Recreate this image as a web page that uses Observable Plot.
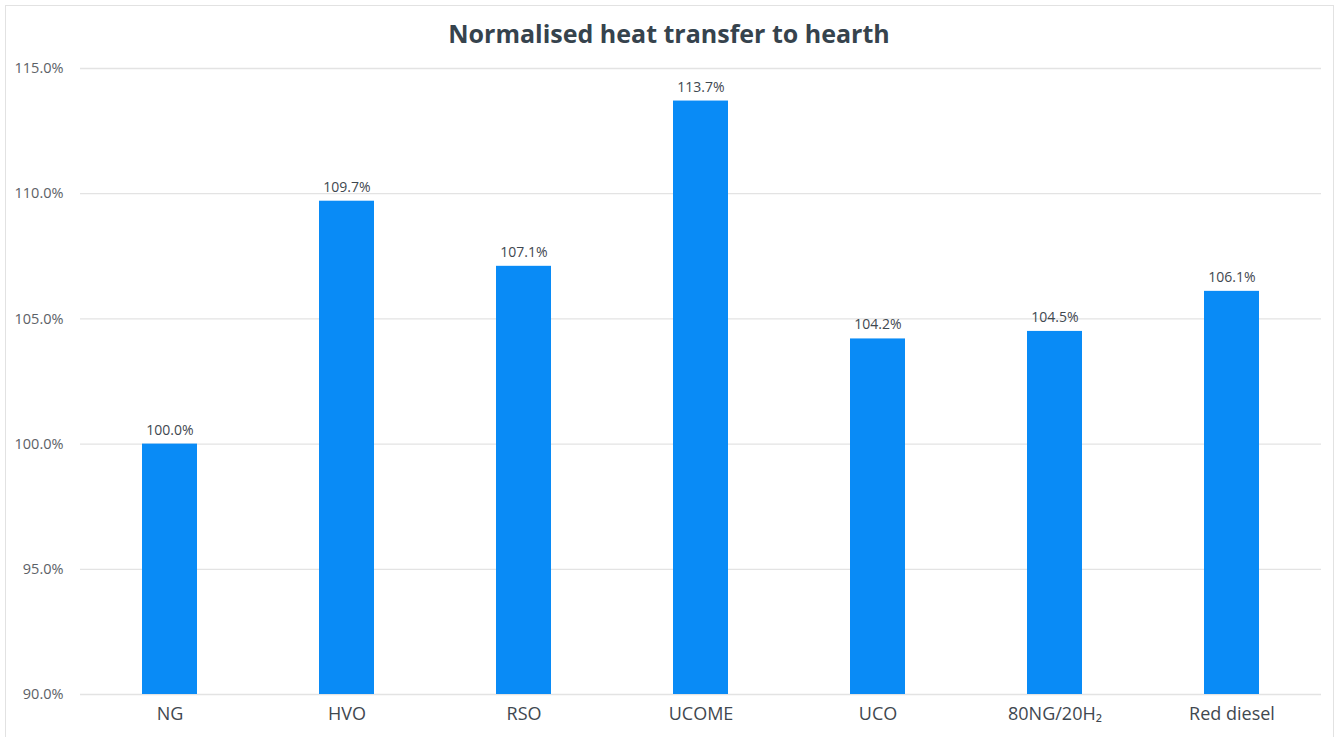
<!DOCTYPE html>
<html>
<head>
<meta charset="utf-8">
<script src="https://cdn.jsdelivr.net/npm/d3@7"></script>
<script src="https://cdn.jsdelivr.net/npm/@observablehq/plot@0.6"></script>
<style>
  body { margin: 0; background: #fff; font-family: "Open Sans", Lato, sans-serif; }
  #frame { position: absolute; left: 5px; top: 5px; width: 1329px; height: 760px; border: 1.5px solid #e2e2e2; border-bottom: none; box-sizing: border-box; }
  #title { position: absolute; left: 0; top: 16px; width: 1338px; text-align: center; font-size: 25px; font-weight: 700; color: #36434d; }
  #chart { position: absolute; left: 0; top: 50px; }
</style>
</head>
<body>
<div id="frame"></div>
<div id="title">Normalised heat transfer to hearth</div>
<div id="chart"></div>
<script>
const categories = ["NG", "HVO", "RSO", "UCOME", "UCO", "80NG/20H\u2082", "Red diesel"];
const values = [100.0, 109.7, 107.1, 113.7, 104.2, 104.5, 106.1];
const yTicks = [90, 95, 100, 105, 110, 115];

const data = categories.map((c, i) => ({category: c, value: values[i]}));

const chart = Plot.plot({
  width: 1338,
  height: 687,
  marginTop: 18,
  marginBottom: 43,
  marginLeft: 80,
  marginRight: 17,
  style: {fontFamily: "'Open Sans', Lato, sans-serif", background: "transparent"},
  x: {domain: categories, paddingInner: 0.69, paddingOuter: 0.345, label: null, tickSize: 0},
  y: {domain: [90, 115], label: null},
  marks: [
    Plot.ruleY(yTicks, {stroke: "#e3e3e3", strokeWidth: 1.3}),
    Plot.barY(data, {x: "category", y1: 90, y2: "value", fill: "#098bf6"}),
    Plot.text(data, {x: "category", y: "value", text: d => d.value.toFixed(1) + "%", dy: -14, fontSize: 14, fill: "#3f4850"}),
    Plot.axisY({ticks: yTicks, tickSize: 0, tickPadding: 17, tickFormat: d => d.toFixed(1) + "%", fontSize: 14.5, fill: "#5c6166", label: null}),
    Plot.axisX({tickSize: 0, tickPadding: 13, fontSize: 18, fill: "#3f4850", label: null})
  ]
});
document.getElementById("chart").appendChild(chart);
</script>
</body>
</html>
